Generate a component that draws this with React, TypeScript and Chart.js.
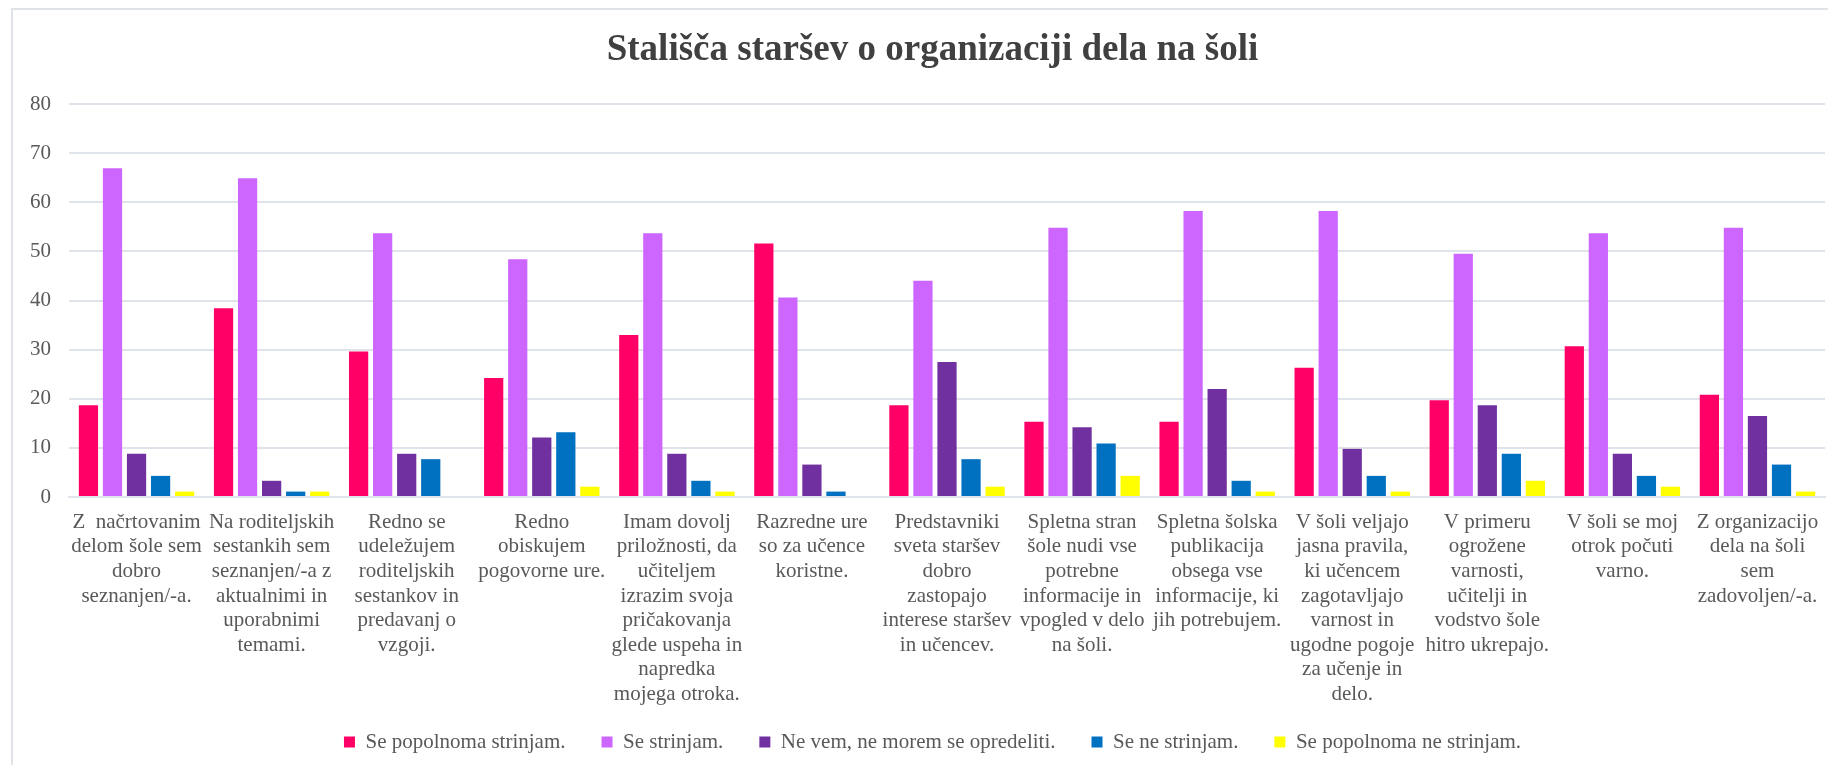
import React, { useEffect, useRef } from "react";
import { Chart, registerables } from "chart.js";

Chart.register(...registerables);

const chartTitle = "Stališča staršev o organizaciji dela na šoli";

const categories: string[][] = [
  ["Z  načrtovanim", "delom šole sem", "dobro", "seznanjen/-a."],
  ["Na roditeljskih", "sestankih sem", "seznanjen/-a z", "aktualnimi in", "uporabnimi", "temami."],
  ["Redno se", "udeležujem", "roditeljskih", "sestankov in", "predavanj o", "vzgoji."],
  ["Redno", "obiskujem", "pogovorne ure."],
  ["Imam dovolj", "priložnosti, da", "učiteljem", "izrazim svoja", "pričakovanja", "glede uspeha in", "napredka", "mojega otroka."],
  ["Razredne ure", "so za učence", "koristne."],
  ["Predstavniki", "sveta staršev", "dobro", "zastopajo", "interese staršev", "in učencev."],
  ["Spletna stran", "šole nudi vse", "potrebne", "informacije in", "vpogled v delo", "na šoli."],
  ["Spletna šolska", "publikacija", "obsega vse", "informacije, ki", "jih potrebujem."],
  ["V šoli veljajo", "jasna pravila,", "ki učencem", "zagotavljajo", "varnost in", "ugodne pogoje", "za učenje in", "delo."],
  ["V primeru", "ogrožene", "varnosti,", "učitelji in", "vodstvo šole", "hitro ukrepajo."],
  ["V šoli se moj", "otrok počuti", "varno."],
  ["Z organizacijo", "dela na šoli", "sem", "zadovoljen/-a."],
];

const seriesNames = [
  "Se popolnoma strinjam.",
  "Se strinjam.",
  "Ne vem, ne morem se opredeliti.",
  "Se ne strinjam.",
  "Se popolnoma ne strinjam.",
];

const popolnomaStrinjam = [18.7, 38.4, 29.6, 24.2, 33.0, 51.6, 18.7, 15.3, 15.3, 26.3, 19.7, 30.7, 20.8];
const strinjam = [66.9, 64.9, 53.7, 48.4, 53.7, 40.6, 44.0, 54.8, 58.2, 58.2, 49.5, 53.7, 54.8];
const neVem = [8.8, 3.3, 8.8, 12.1, 8.8, 6.6, 27.5, 14.2, 22.0, 9.8, 18.7, 8.8, 16.5];
const neStrinjam = [4.3, 1.1, 7.7, 13.2, 3.3, 1.1, 7.7, 10.9, 3.3, 4.3, 8.8, 4.3, 6.6];
const popolnomaNeStrinjam = [1.1, 1.1, 0, 2.1, 1.1, 0, 2.1, 4.3, 1.1, 1.1, 3.3, 2.1, 1.1];

const seriesColors = ["#FF0066", "#CC66FF", "#7030A0", "#0070C0", "#FFFF00"];

const yTicks = { min: 0, max: 80, step: 10 };

const FONT = "'Liberation Serif', 'Times New Roman', serif";

const borderPlugin = {
  id: "outerBorder",
  afterLayout(chart: any) {
    // centre title and legend slightly right of the canvas centre, as in the reference
    const shift = 32;
    if (chart.titleBlock) {
      chart.titleBlock.left += shift;
    }
    if (chart.legend) {
      chart.legend.left += shift;
      chart.legend.top -= 13.5;
      chart.legend.bottom -= 13.5;
    }
  },
  beforeDraw(chart: any) {
    const ctx = chart.ctx;
    ctx.save();
    ctx.fillStyle = "#ffffff";
    ctx.fillRect(0, 0, chart.width, chart.height);
    ctx.fillStyle = "#dfe3e8";
    ctx.fillRect(3, 0, chart.width, 2);
    ctx.fillRect(3, 0, 2, chart.height);
    ctx.restore();
  },
};

export default function App() {
  const ref = useRef<HTMLCanvasElement | null>(null);

  useEffect(() => {
    if (!ref.current) return;
    const values = [popolnomaStrinjam, strinjam, neVem, neStrinjam, popolnomaNeStrinjam];
    const chart = new Chart(ref.current, {
      type: "bar",
      data: {
        labels: categories,
        datasets: seriesNames.map((name, i) => ({
          label: name,
          data: values[i],
          backgroundColor: seriesColors[i],
          borderWidth: 0,
          categoryPercentage: 0.89,
          barPercentage: 0.8,
        })),
      },
      options: {
        responsive: false,
        animation: false,
        devicePixelRatio: 1,
        layout: { padding: { left: 0, right: 11, top: 0, bottom: -11 } },
        plugins: {
          title: {
            display: true,
            text: chartTitle,
            color: "#404040",
            font: { family: FONT, size: 37, weight: "bold", lineHeight: 1.2 },
            padding: { top: 20, bottom: 31.6 },
          },
          legend: {
            position: "bottom",
            labels: {
              boxWidth: 11,
              boxHeight: 11,
              padding: 36,
              color: "#595959",
              font: { family: FONT, size: 21 },
            },
          },
          tooltip: { enabled: false },
        },
        scales: {
          x: {
            grid: { display: false, drawTicks: false },
            border: { display: true, color: "#dfe3ea", width: 2 },
            ticks: {
              autoSkip: false,
              maxRotation: 0,
              minRotation: 0,
              padding: 13,
              color: "#595959",
              font: { family: FONT, size: 21, lineHeight: 1.17 },
            },
            afterFit: (s: any) => {
              s.height = 212;
            },
          },
          y: {
            min: yTicks.min,
            max: yTicks.max,
            ticks: {
              stepSize: yTicks.step,
              padding: 18,
              color: "#595959",
              font: { family: FONT, size: 21 },
            },
            grid: { color: "#dfe3ea", lineWidth: 2, drawTicks: false },
            border: { display: false },
            afterFit: (s: any) => {
              s.width = 61;
            },
          },
        },
      },
      plugins: [borderPlugin],
    });
    return () => chart.destroy();
  }, []);

  return <canvas ref={ref} width={1828} height={757} style={{ display: "block" }} />;
}
